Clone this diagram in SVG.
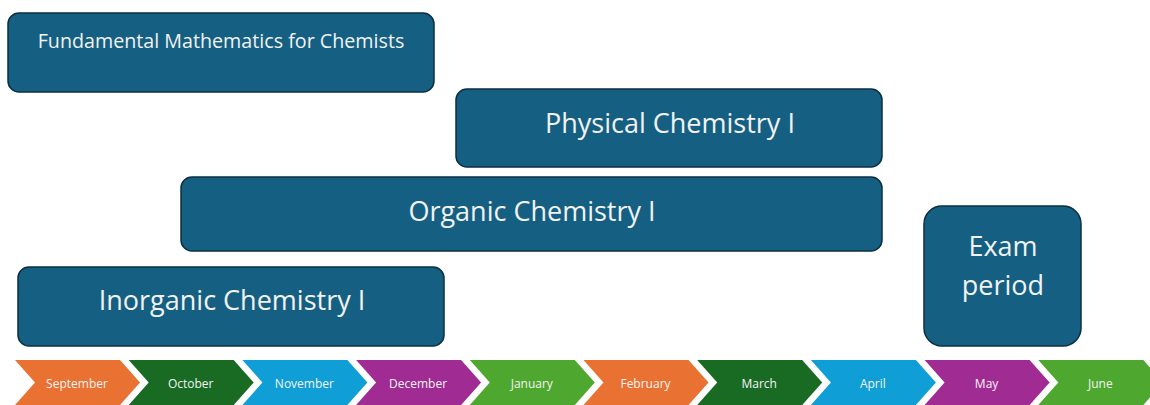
<svg xmlns="http://www.w3.org/2000/svg" width="1150" height="405" viewBox="0 0 1150 405">
<style>
.box{fill:#156082;stroke:#0b2f40;stroke-width:1.5}
.t{font-family:"Open Sans","Liberation Sans",Arial,sans-serif;fill:#f2f2f2;text-anchor:middle}
.big{font-size:27px}
.m{font-family:"Open Sans","Liberation Sans",Arial,sans-serif;font-size:12px;fill:#f4f4f4;text-anchor:middle}
</style>
<rect width="1150" height="405" fill="#ffffff"/>
<g id="fundamental-math">
<rect class="box" x="8" y="13" width="426" height="79" rx="11"/>
<text class="t" x="221" y="48" font-size="19.7">Fundamental Mathematics for Chemists</text>
</g>
<g id="physical-chemistry">
<rect class="box" x="456" y="89" width="426" height="78" rx="11"/>
<text class="t big" x="670" y="133">Physical Chemistry I</text>
</g>
<g id="organic-chemistry">
<rect class="box" x="181" y="177" width="701" height="74" rx="11"/>
<text class="t big" x="532" y="221">Organic Chemistry I</text>
</g>
<g id="inorganic-chemistry">
<rect class="box" x="18" y="267" width="426" height="79" rx="11"/>
<text class="t big" x="232" y="310">Inorganic Chemistry I</text>
</g>
<g id="exam-period">
<rect class="box" x="924" y="206" width="157" height="140" rx="18"/>
<text class="t big" x="1003" y="256">Exam</text>
<text class="t big" x="1003" y="295">period</text>
</g>
<g id="timeline">
<g id="sep"><polygon points="15,360 120,360 140,382.5 120,405 15,405 35,382.5" fill="#E97132"/><text class="m" x="77" y="388">September</text></g>
<g id="oct"><polygon points="128.7,360 233.7,360 253.7,382.5 233.7,405 128.7,405 148.7,382.5" fill="#196B24"/><text class="m" x="190.7" y="388">October</text></g>
<g id="nov"><polygon points="242.4,360 347.4,360 367.4,382.5 347.4,405 242.4,405 262.4,382.5" fill="#0F9ED5"/><text class="m" x="304.4" y="388">November</text></g>
<g id="dec"><polygon points="356.1,360 461.1,360 481.1,382.5 461.1,405 356.1,405 376.1,382.5" fill="#A02B93"/><text class="m" x="418.1" y="388">December</text></g>
<g id="jan"><polygon points="469.8,360 574.8,360 594.8,382.5 574.8,405 469.8,405 489.8,382.5" fill="#4EA72E"/><text class="m" x="531.8" y="388">January</text></g>
<g id="feb"><polygon points="583.5,360 688.5,360 708.5,382.5 688.5,405 583.5,405 603.5,382.5" fill="#E97132"/><text class="m" x="645.5" y="388">February</text></g>
<g id="mar"><polygon points="697.2,360 802.2,360 822.2,382.5 802.2,405 697.2,405 717.2,382.5" fill="#196B24"/><text class="m" x="759.2" y="388">March</text></g>
<g id="apr"><polygon points="810.9,360 915.9,360 935.9,382.5 915.9,405 810.9,405 830.9,382.5" fill="#0F9ED5"/><text class="m" x="872.9" y="388">April</text></g>
<g id="may"><polygon points="924.6,360 1029.6,360 1049.6,382.5 1029.6,405 924.6,405 944.6,382.5" fill="#A02B93"/><text class="m" x="986.6" y="388">May</text></g>
<g id="jun"><polygon points="1038.3,360 1143.3,360 1163.3,382.5 1143.3,405 1038.3,405 1058.3,382.5" fill="#4EA72E"/><text class="m" x="1100.3" y="388">June</text></g>
</g>
</svg>
